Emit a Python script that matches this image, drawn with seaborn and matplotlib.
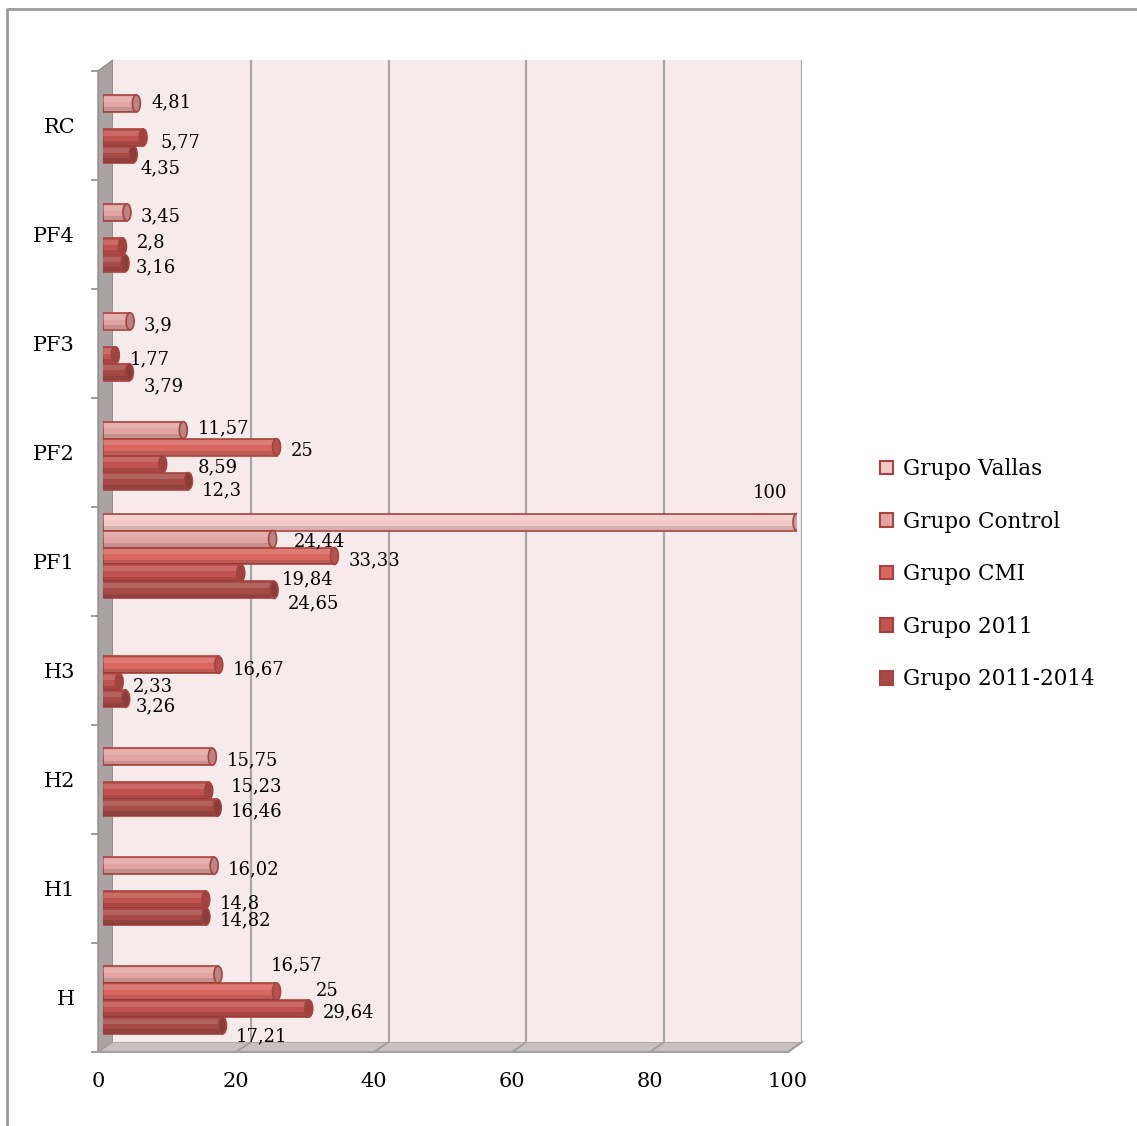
import numpy as np
import pandas as pd
import matplotlib
matplotlib.use('Agg')
import matplotlib.pyplot as plt
import matplotlib.colors as mcolors
from matplotlib.patches import Polygon, Ellipse, Rectangle, Patch
from matplotlib.lines import Line2D
import seaborn as sns

# --- data ---
categorias = ['RC', 'PF4', 'PF3', 'PF2', 'PF1', 'H3', 'H2', 'H1', 'H']
grupos = ['Grupo Vallas', 'Grupo Control', 'Grupo CMI', 'Grupo 2011', 'Grupo 2011-2014']
vallas = [None, None, None, None, 100, None, None, None, None]
control = [4.81, 3.45, 3.9, 11.57, 24.44, None, 15.75, 16.02, 16.57]
cmi = [None, None, None, 25, 33.33, 16.67, None, None, 25]
g2011 = [5.77, 2.8, 1.77, 8.59, 19.84, 2.33, 15.23, 14.8, 29.64]
g2011_2014 = [4.35, 3.16, 3.79, 12.3, 24.65, 3.26, 16.46, 14.82, 17.21]
x_ticks = [0, 20, 40, 60, 80, 100]

colores = ['#F3C9C8', '#E2A4A2', '#D9665F', '#C0534E', '#A64A47']
borde = '#A8423F'

rows = []
for g, vals in zip(grupos, [vallas, control, cmi, g2011, g2011_2014]):
    for c, v in zip(categorias, vals):
        if v is not None:
            rows.append((c, g, v))
df = pd.DataFrame(rows, columns=['categoria', 'grupo', 'valor'])

# label nudges in pixels (right, down); default is (14, 4)
nudges = {
    ('RC', 'Grupo Control'): (15, -1), ('RC', 'Grupo 2011'): (17, 5),
    ('RC', 'Grupo 2011-2014'): (7, 14), ('PF4', 'Grupo 2011'): (14, -4),
    ('PF4', 'Grupo 2011-2014'): (11, 4), ('PF3', 'Grupo 2011-2014'): (14, 14),
    ('PF2', 'Grupo Control'): (14, -2), ('PF2', 'Grupo 2011'): (35, 3),
    ('PF2', 'Grupo 2011-2014'): (13, 9), ('PF1', 'Grupo Control'): (21, 2),
    ('PF1', 'Grupo 2011'): (41, 6), ('PF1', 'Grupo 2011-2014'): (14, 13),
    ('H3', 'Grupo 2011-2014'): (10, 7), ('H2', 'Grupo 2011'): (22, -4),
    ('H', 'Grupo Control'): (53, -9), ('H', 'Grupo CMI'): (39, -1),
    ('H', 'Grupo 2011-2014'): (13, 11),
}

sns.set_style('white')
plt.rcParams['font.family'] = ['DejaVu Serif']
plt.rcParams['text.color'] = 'black'
plt.rcParams['xtick.labelcolor'] = 'black'
plt.rcParams['ytick.labelcolor'] = 'black'

W, H = 1137, 1126
fig = plt.figure(figsize=(W / 100, H / 100), dpi=100)


def box(x0, y0, x1, y1):
    # pixel box (top-left origin) -> figure fraction rect
    return [x0 / W, 1 - y1 / H, (x1 - x0) / W, (y1 - y0) / H]


def px(x, y):
    return (x / W, 1 - y / H)


# back wall with grid
ax_back = fig.add_axes(box(113, 60, 802, 1042), zorder=0)
ax_back.set_facecolor('#F6EAEA')
ax_back.set_xlim(0, 100)
ax_back.set_xticks(x_ticks[1:])
ax_back.set_yticks([])
ax_back.tick_params(axis='x', length=0, labelbottom=False)
ax_back.grid(axis='x', color='#A6A6A6', lw=1.6)
for s in ax_back.spines.values():
    s.set_visible(False)

# front plane: ticks and labels
ax_front = fig.add_axes(box(98, 71, 788, 1052), zorder=1)
ax_front.patch.set_alpha(0)
ax_front.set_xlim(0, 100)
ax_front.set_ylim(len(categorias) - 0.5, -0.5)
ax_front.set_xticks(x_ticks)
ax_front.set_yticks(range(len(categorias)))
ax_front.set_yticklabels(categorias)
ax_front.set_yticks(np.arange(-0.5, len(categorias), 1.0), minor=True)
ax_front.tick_params(axis='y', which='major', length=0, pad=16.5, labelsize=15, labelcolor='black')
ax_front.tick_params(axis='y', which='minor', length=5, width=1.2, color='#8C8C8C', direction='out', left=True)
ax_front.tick_params(axis='x', length=4.5, width=1.4, color='#8C8C8C', direction='out', pad=10,
                     labelsize=15, labelcolor='black')
for k, s in ax_front.spines.items():
    s.set_visible(k == 'bottom')
ax_front.spines['bottom'].set_color('#A0A0A0')
ax_front.spines['bottom'].set_linewidth(1.5)

# bars
ax = fig.add_axes(box(103, 66, 797, 1046), zorder=2)
ax.patch.set_alpha(0)
sns.barplot(data=df, x='valor', y='categoria', hue='grupo', order=categorias,
            hue_order=grupos, palette=colores, saturation=1, width=0.78,
            dodge=True, errorbar=None, edgecolor=borde, linewidth=1.2,
            legend=False, ax=ax)
ax.set_xlim(0, 100)
ax.set_axis_off()

cap_w = 8 * 100 / 694
step = 0.78 / len(grupos)
for bar in list(ax.patches):
    w = bar.get_width()
    if not np.isfinite(w) or w <= 0:
        continue
    y0, h = bar.get_y(), bar.get_height()
    yc = y0 + h / 2
    ci = int(round(yc))
    gi = int(round((yc - ci + 0.39 - step / 2) / step))
    cat, grp = categorias[ci], grupos[gi]
    face = colores[gi]
    ax.add_patch(Rectangle((0, y0 + 0.10 * h), w, 0.30 * h, color='white', alpha=0.14, lw=0, zorder=1.5))
    ax.add_patch(Rectangle((0, y0 + 0.72 * h), w, 0.26 * h, color='black', alpha=0.12, lw=0, zorder=1.5))
    cap = np.array(mcolors.to_rgb(face)) * 0.82
    ax.add_patch(Ellipse((w, yc), cap_w, h, facecolor=cap, edgecolor=borde, lw=1.2, zorder=2))
    txt = f'{w:g}'.replace('.', ',')
    if grp == 'Grupo Vallas':
        ax.annotate(txt, xy=(w, yc), xytext=(-10, 29), textcoords='offset pixels',
                    ha='right', va='center', fontsize=13, color='black', annotation_clip=False)
    else:
        dx, dy = nudges.get((cat, grp), (14, 4))
        ax.annotate(txt, xy=(w, yc), xytext=(dx, -dy), textcoords='offset pixels',
                    ha='left', va='center', fontsize=13, color='black', annotation_clip=False)

# side wall and floor
fig.patches.append(Polygon([px(98, 71), px(113, 60), px(113, 1042), px(98, 1052)], closed=True,
                           transform=fig.transFigure, facecolor='#A9A3A3', edgecolor='#908A8A', lw=1, zorder=-1))
fig.patches.append(Polygon([px(98, 1052), px(113, 1042), px(802, 1042), px(788, 1052)], closed=True,
                           transform=fig.transFigure, facecolor='#C9C1C1', edgecolor='#A0A0A0', lw=1, zorder=-1))
inv = fig.transFigure.inverted()
for v in x_ticks[1:]:
    p1 = inv.transform(ax_front.get_xaxis_transform().transform((v, 0)))
    p2 = inv.transform(ax_back.get_xaxis_transform().transform((v, 0)))
    fig.lines.append(Line2D([p1[0], p2[0]], [p1[1], p2[1]], transform=fig.transFigure,
                            color='#A0A0A0', lw=1.5, zorder=-0.5))

# outer frame (left and top edges visible)
fig.lines.append(Line2D([7 / W, 7 / W, 1], [0, 1 - 9 / H, 1 - 9 / H], transform=fig.transFigure,
                        color='#9A9A9A', lw=2))

# legend
handles = [Patch(facecolor=c, edgecolor=borde, lw=1.5, label=g) for c, g in zip(colores, grupos)]
fig.legend(handles=handles, loc='upper left', bbox_to_anchor=(880 / W, 1 - 458 / H),
           frameon=False, fontsize=15.5, labelcolor='black', handlelength=0.6, handleheight=0.6,
           handletextpad=0.45, labelspacing=1.42, borderpad=0, borderaxespad=0)

fig.savefig('out.png', dpi=100)
